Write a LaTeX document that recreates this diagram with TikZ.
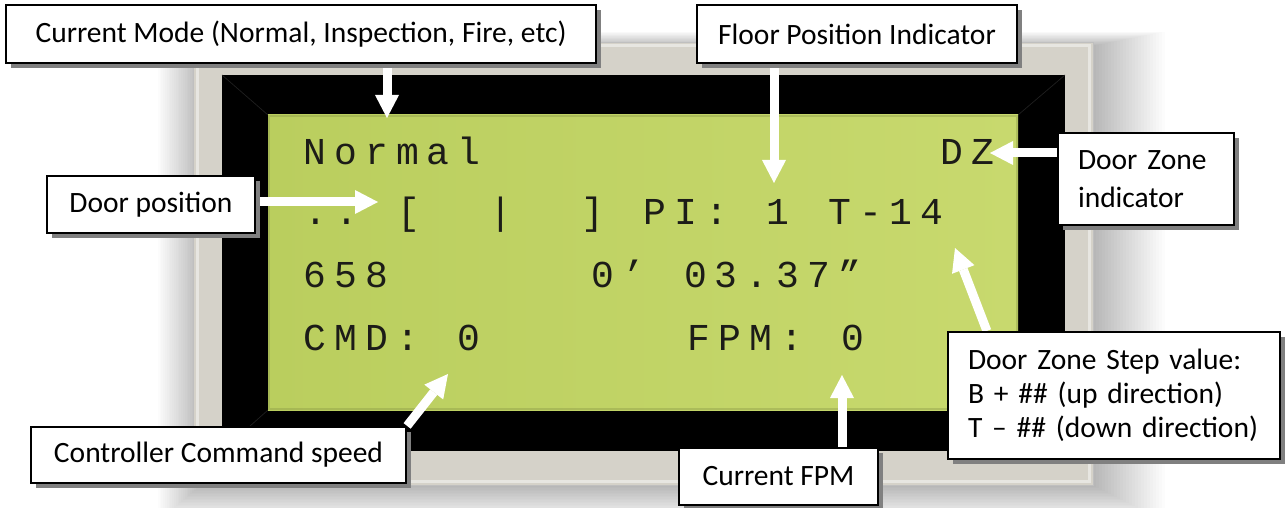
\documentclass[tikz,border=0pt]{standalone}
\usepackage{fontspec}
\setmainfont{Carlito}
\newfontfamily\lcdfont{Liberation Mono}
\usetikzlibrary{arrows.meta,shadows,calc}
\pgfdeclarelayer{front}
\pgfsetlayers{main,front}
\definecolor{bezel}{RGB}{213,210,201}
\definecolor{lcdA}{RGB}{186,206,94}
\definecolor{lcdB}{RGB}{200,217,110}
\definecolor{lcdink}{RGB}{28,28,24}
\definecolor{shadowgray}{RGB}{128,128,128}
\makeatletter
\newcommand\lcdchars[1]{\@tfor\lcdc:=#1\do{\makebox[30.8pt][c]{\if*\lcdc\else\lcdc\fi}}}
\makeatother
\tikzset{
  callout/.style={draw=black, line width=2.2pt, fill=white, inner sep=0pt,
    font=\fontsize{29.5}{34}\selectfont,
    drop shadow={shadow xshift=5pt, shadow yshift=-5pt, fill=shadowgray, opacity=1}},
  callarrow/.style={draw=white, line width=9pt, -{Triangle[length=23pt, width=24pt, line width=0pt]}},
  lcdrow/.style={anchor=base west, inner sep=0pt, text=lcdink, font=\lcdfont\fontsize{38}{38}\selectfont},
}
\begin{document}
\begin{tikzpicture}[x=1pt,y=-1pt]
\useasboundingbox (0,0) rectangle (1286,508);
\fill[white] (0,0) rectangle (1286,508);
% soft shadow round the bezel
\foreach \i in {1,...,24}{
  \fill[black, opacity=0.011] ({201-1.8*\i},{46-0.6*\i}) rectangle ({1093+3*\i},{485+1.5*\i});
}
% bezel
\fill[bezel] (193,42) rectangle (1093,485);
\draw[white, opacity=0.45, line width=3pt] (197,46) rectangle (1089,481);
\draw[black!25, line width=0.8pt] (193,42) rectangle (1093,485);
% black frame
\fill[black] (222,75) rectangle (1065,451);
\draw[black!88!white, line width=0.7pt] (222,75) -- (268,115) (1065,75) -- (1018,115)
  (222,451) -- (268,410) (1065,451) -- (1018,410);
% LCD glass
\shade[left color=lcdA, right color=lcdB] (268,115) rectangle (1018,410);
\draw[lcdA!70!black, line width=2pt, opacity=0.35] (269,116) rectangle (1017,409);
% LCD text
\node[lcdrow] (row1a) at (299.6,165) {\lcdchars{Normal}};
\node[lcdrow] (row1b) at (936.6,165) {\lcdchars{DZ}};
\node[lcdrow] (row2) at (300.6,225) {\lcdchars{..*[**|**]*PI:*1*T-14}};
\node[lcdrow] (row3a) at (299.6,287) {\lcdchars{658}};
\node[lcdrow] (row3b) at (587.6,287) {\lcdchars{0’*03.37”}};
\node[lcdrow] (row4a) at (299.6,350) {\lcdchars{CMD:*0}};
\node[lcdrow] (row4b) at (683.6,350) {\lcdchars{FPM:*0}};
% callout boxes
\begin{pgfonlayer}{front}
\node[callout, minimum width=590pt, minimum height=58pt] (modebox) at (301,34) {Current Mode (Normal, Inspection, Fire, etc)};
\node[callout, minimum width=320pt, minimum height=58pt] (floorbox) at (857,34) {Floor Position Indicator};
\node[callout, minimum width=208pt, minimum height=57pt] (doorposbox) at (151,204.5) {Door position};
\node[callout, inner xsep=20pt, text width=136pt, align=left, minimum height=92pt,
  font=\fontsize{29.5}{38}\selectfont] (dzbox) at (1146,179) {Door Zone\\indicator};
\node[callout, minimum width=375pt, minimum height=56pt] (ctrlbox) at (218.5,455) {Controller Command speed};
\node[callout, minimum width=199pt, minimum height=57pt] (fpmbox) at (778.5,476.5) {Current FPM};
\node[callout, inner xsep=20pt, text width=292pt, align=left, minimum height=127pt,
  font=\fontsize{29.5}{34}\selectfont] (stepbox) at (1114,395.5)
  {Door Zone Step value:\\B + \#\# (up direction)\\T – \#\# (down direction)};
\end{pgfonlayer}
% arrows
\coordinate (modetip) at (387,118);
\draw[callarrow] (modebox.south -| modetip) -- (modetip);
\coordinate (floortip) at (774,183);
\draw[callarrow] (floorbox.south -| floortip) -- (floortip);
\coordinate (doortip) at (378,202);
\draw[callarrow] (doorposbox.east |- doortip) -- (doortip);
\coordinate (dztip) at (990,153);
\draw[callarrow] (dzbox.west |- dztip) -- (dztip);
\coordinate (steptip) at (955,248);
\draw[callarrow] ($(stepbox.north west)+(40,0)$) -- (steptip);
\coordinate (ctrltip) at (448,374);
\draw[callarrow] (ctrlbox.north east) -- (ctrltip);
\coordinate (fpmtip) at (842,375);
\draw[callarrow] (fpmbox.north -| fpmtip) -- (fpmtip);
\end{tikzpicture}
\end{document}
